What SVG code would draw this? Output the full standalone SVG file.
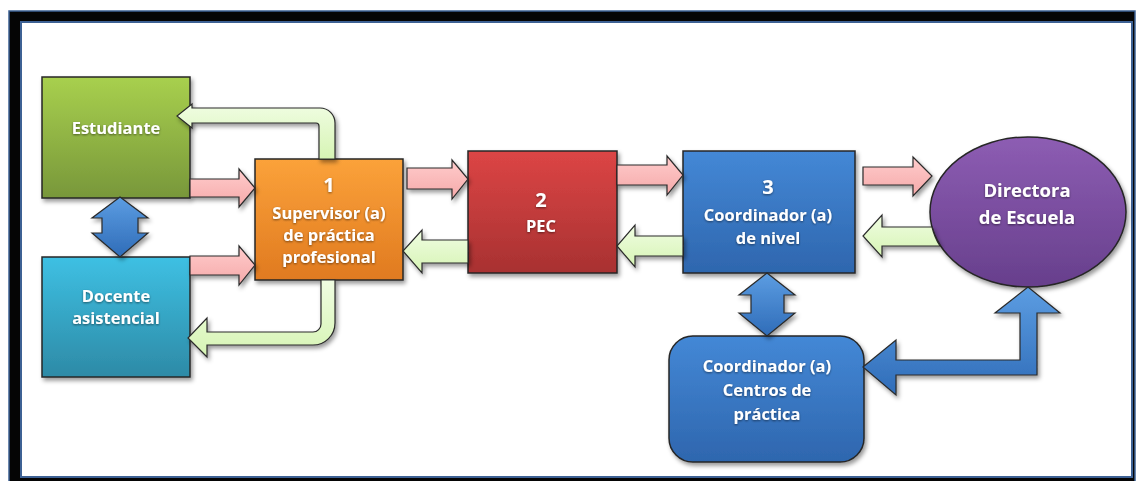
<svg xmlns="http://www.w3.org/2000/svg" width="1137" height="481" viewBox="0 0 1137 481">
<defs>
<linearGradient id="gGreen" x1="0" y1="0" x2="0" y2="1"><stop offset="0" stop-color="#a8d04e"/><stop offset="1" stop-color="#78973a"/></linearGradient>
<linearGradient id="gCyan" x1="0" y1="0" x2="0" y2="1"><stop offset="0" stop-color="#3ec0e3"/><stop offset="1" stop-color="#2d8aa6"/></linearGradient>
<linearGradient id="gOrange" x1="0" y1="0" x2="0" y2="1"><stop offset="0" stop-color="#fba23a"/><stop offset="1" stop-color="#e07a20"/></linearGradient>
<linearGradient id="gRed" x1="0" y1="0" x2="0" y2="1"><stop offset="0" stop-color="#dc4545"/><stop offset="1" stop-color="#a83131"/></linearGradient>
<linearGradient id="gBlue" x1="0" y1="0" x2="0" y2="1"><stop offset="0" stop-color="#4488d6"/><stop offset="1" stop-color="#2e66ae"/></linearGradient>
<linearGradient id="gPurple" x1="0" y1="0" x2="0" y2="1"><stop offset="0" stop-color="#8d5db3"/><stop offset="1" stop-color="#673f8c"/></linearGradient>
<linearGradient id="gPink" x1="0" y1="0" x2="0" y2="1"><stop offset="0" stop-color="#ffcccc"/><stop offset="1" stop-color="#f5a9a9"/></linearGradient>
<linearGradient id="gLime" x1="0" y1="0" x2="0" y2="1"><stop offset="0" stop-color="#f0fde2"/><stop offset="1" stop-color="#d6f4b4"/></linearGradient>
<linearGradient id="gArrowBlue" x1="0" y1="0" x2="0" y2="1"><stop offset="0" stop-color="#5c9de2"/><stop offset="1" stop-color="#2f6cb8"/></linearGradient>
<filter id="sh" x="-10%" y="-10%" width="125%" height="130%"><feDropShadow dx="2" dy="3" stdDeviation="2" flood-color="#000" flood-opacity="0.4"/></filter>
<filter id="ts" x="-10%" y="-30%" width="120%" height="160%"><feDropShadow dx="0" dy="1" stdDeviation="0.8" flood-color="#000" flood-opacity="0.5"/></filter>
</defs>
<style>
.box{stroke:#262626;stroke-width:1.5;filter:url(#sh)}
.arr{stroke:#2a2a2a;stroke-width:1.2;stroke-linejoin:miter;filter:url(#sh)}
.pink{fill:url(#gPink)}
.lime{fill:url(#gLime)}
.blue{fill:url(#gArrowBlue)}
.t{font-family:"Open Sans","Liberation Sans",sans-serif;font-weight:bold;fill:#fff;text-anchor:middle;font-size:16.5px;filter:url(#ts)}
.n{font-size:20px}
.d{font-size:18.5px}
</style>
<rect x="0" y="0" width="1137" height="481" fill="#fff"/>
<g id="frame">
<rect x="9" y="11" width="1126" height="472" fill="#050505" stroke="#3d6194" stroke-width="1.5"/>
<rect x="21" y="22" width="1111" height="455" fill="#fff" stroke="#3d6194" stroke-width="2"/>
</g>
<g id="estudiante">
<rect class="box" x="42" y="77" width="148" height="121" fill="url(#gGreen)"/>
<text class="t" x="116" y="134">Estudiante</text>
</g>
<g id="docente">
<rect class="box" x="42" y="257" width="148" height="120" fill="url(#gCyan)"/>
<text class="t" x="116" y="302">Docente</text>
<text class="t" x="116" y="324">asistencial</text>
</g>
<g id="supervisor">
<rect class="box" x="255" y="159" width="148" height="121" fill="url(#gOrange)"/>
<text class="t n" x="329" y="192">1</text>
<text class="t" x="329" y="219">Supervisor (a)</text>
<text class="t" x="329" y="241">de práctica</text>
<text class="t" x="329" y="263">profesional</text>
</g>
<g id="pec">
<rect class="box" x="468" y="151" width="149" height="122" fill="url(#gRed)"/>
<text class="t n" x="541" y="207">2</text>
<text class="t" x="541" y="232">PEC</text>
</g>
<g id="coordinador-nivel">
<rect class="box" x="683" y="151" width="172" height="122" fill="url(#gBlue)"/>
<text class="t n" x="768" y="194">3</text>
<text class="t" x="768" y="221">Coordinador (a)</text>
<text class="t" x="768" y="244">de nivel</text>
</g>
<g id="directora">
<ellipse class="box" cx="1028" cy="212" rx="98" ry="75" fill="url(#gPurple)"/>
<text class="t d" x="1027" y="197">Directora</text>
<text class="t d" x="1027" y="224">de Escuela</text>
</g>
<g id="coordinador-centros">
<rect class="box" x="669" y="336" width="195" height="126" rx="24" ry="24" fill="url(#gBlue)"/>
<text class="t" x="767" y="372">Coordinador (a)</text>
<text class="t" x="767" y="396">Centros de</text>
<text class="t" x="767" y="420">práctica</text>
</g>
<g id="connectors">
<path class="arr pink" d="M190,179 H239 V169 L255,188 L239,207 V197 H190 Z"/>
<path class="arr pink" d="M190,256 H239 V246 L255,265 L239,285 V275 H190 Z"/>
<path class="arr lime" d="M335,159 V123 A15,15 0 0 0 320,108 H192 V104 L177,116 L192,128 V123 H316 A3,3 0 0 1 319,126 V159 Z"/>
<path class="arr lime" d="M321,280 V324 A8,8 0 0 1 313,332 H207 V318 L188,338 L207,357 V345 H313 A22,22 0 0 0 335,323 V280 Z"/>
<path class="arr blue" d="M120,197 L148,218 H138 V233 H148 L120,257 L92,233 H102 V218 H92 Z"/>
<path class="arr pink" d="M407,168 H452 V160 L468,179 L452,199 V189 H407 Z"/>
<path class="arr lime" d="M468,240 H422 V230 L403,251 L422,273 V263 H468 Z"/>
<path class="arr pink" d="M617,165 H667 V156 L683,175 L667,195 V185 H617 Z"/>
<path class="arr lime" d="M683,236 H635 V225 L617,246 L635,267 V256 H683 Z"/>
<path class="arr pink" d="M863,167 H913 V157 L932,176 L913,196 V185 H863 Z"/>
<path class="arr lime" d="M932,227 H882 V215 L863,236 L882,257 V246 H940 A98,75 0 0 1 932,227 Z"/>
<path class="arr blue" d="M767,273 L795,295 H784 V313 H795 L767,336 L739,313 H751 V295 H739 Z"/>
<path class="arr blue" d="M863,367 L896,340 V360 H1020 V313 H995 L1028,287 L1060,313 H1037 V375 H896 V395 Z"/>
</g>
</svg>
